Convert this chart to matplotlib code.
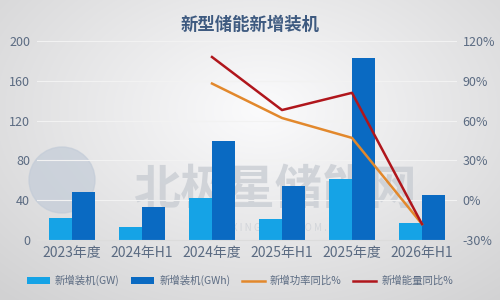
import numpy as np
import matplotlib.pyplot as plt
from matplotlib.patches import Circle

plt.rcParams['font.family'] = ['Noto Sans CJK SC', 'DejaVu Sans']

# 数据
categories = ['2023年度', '2024年H1', '2024年度', '2025年H1', '2025年度', '2026年H1']
gw = [22, 13, 42, 21, 61, 17]
gwh = [48, 33, 100, 54, 183, 45]
power_yoy = [np.nan, np.nan, 88, 62, 47, -18]
energy_yoy = [np.nan, np.nan, 108, 68, 81, -18]

c_gw = '#15a3e6'
c_gwh = '#0a6ac2'
c_pow = '#e2882c'
c_en = '#b0161c'
c_txt = '#5b6b82'

fig = plt.figure(figsize=(5, 3), dpi=100)

# 背景渐变 + 水印
bg = fig.add_axes([0, 0, 1, 1], zorder=-10)
yy, xx = np.mgrid[0:300, 0:500]
d = np.sqrt(((xx - 260) / 300.0) ** 2 + ((yy - 110) / 200.0) ** 2)
g = np.clip(0.985 - 0.13 * d, 0.82, 1)
bg.imshow(np.dstack([g, g, g * 1.005]).clip(0, 1), aspect='auto', extent=[0, 500, 300, 0])
bg.add_patch(Circle((62, 180), 33, color='#c3ccd8', alpha=0.7))
bg.text(275, 190, '北极星储能网', fontsize=34, fontweight='bold', style='italic',
        color='#c9cdd3', ha='center', va='center', alpha=0.8)
bg.text(275, 228, 'C H U X I N G . B J X . C O M . C N', fontsize=7,
        color='#d2d5da', ha='center', va='center')
bg.set_xlim(0, 500)
bg.set_ylim(300, 0)
bg.axis('off')

ax = fig.add_axes([0.074, 0.2, 0.84, 0.663])
ax.patch.set_alpha(0)
x = np.arange(len(categories))
w = 0.33
ax.bar(x - w / 2, gw, w, color=c_gw, label='新增装机(GW)', zorder=2)
ax.bar(x + w / 2, gwh, w, color=c_gwh, label='新增装机(GWh)', zorder=2)
ax.set_ylim(0, 200)
ax.set_yticks(range(0, 201, 40))
ax.set_xlim(-0.5, len(categories) - 0.5)
ax.set_xticks(x)
ax.set_xticklabels(categories, fontsize=10, color=c_txt)
ax.tick_params(axis='y', labelsize=9, colors=c_txt, length=0, pad=5)
ax.tick_params(axis='x', length=0, pad=4)
ax.grid(axis='y', color='#f2f2f2', lw=0.8, zorder=0)
for s in ax.spines.values():
    s.set_visible(False)
ax.spines['bottom'].set_visible(True)
ax.spines['bottom'].set_color('#dcdcdc')

ax2 = ax.twinx()
ax2.plot(x, power_yoy, color=c_pow, lw=1.8, label='新增功率同比%', zorder=3)
ax2.plot(x, energy_yoy, color=c_en, lw=1.8, label='新增能量同比%', zorder=3)
ax2.set_ylim(-30, 120)
ax2.set_yticks(range(-30, 121, 30))
ax2.set_yticklabels([f'{v}%' for v in range(-30, 121, 30)])
ax2.tick_params(axis='y', labelsize=9, colors=c_txt, length=0, pad=4)
for s in ax2.spines.values():
    s.set_visible(False)

fig.text(0.5, 0.915, '新型储能新增装机', fontsize=12.5, fontweight='bold',
         color='#3e5a80', ha='center', va='center')

h1, l1 = ax.get_legend_handles_labels()
h2, l2 = ax2.get_legend_handles_labels()
fig.legend(h1 + h2, l1 + l2, loc='center', bbox_to_anchor=(0.48, 0.065), ncol=4,
           frameon=False, fontsize=7.5, labelcolor=c_txt, handlelength=2.2,
           handleheight=0.6, columnspacing=1.1, handletextpad=0.5)

fig.savefig('out.png', dpi=100)
